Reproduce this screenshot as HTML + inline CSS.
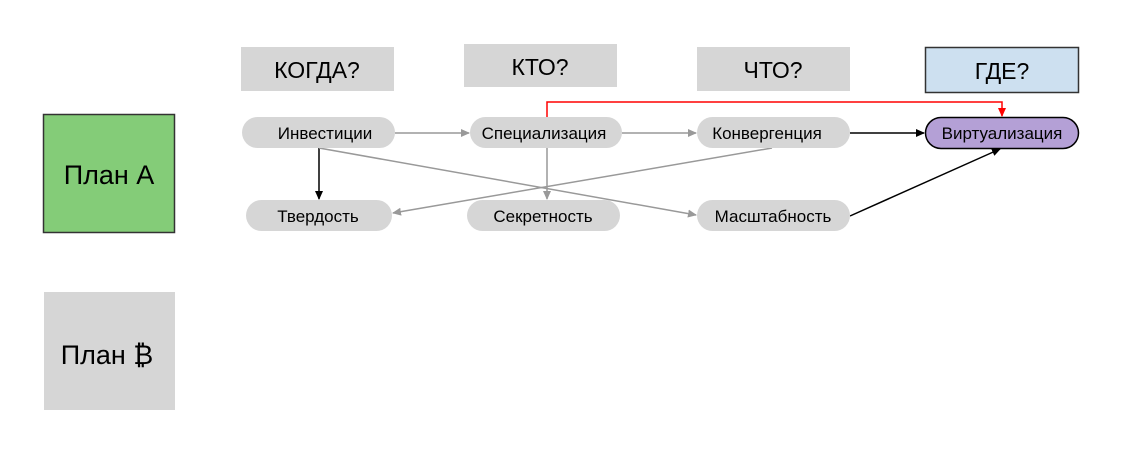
<!DOCTYPE html>
<html><head><meta charset="utf-8"><style>
html,body{margin:0;padding:0;background:#fff;}
svg{display:block;}
text{font-family:"Liberation Sans","DejaVu Sans",sans-serif;}
</style></head><body>
<svg width="1124" height="459" viewBox="0 0 1124 459" xmlns="http://www.w3.org/2000/svg">
<defs>
<marker id="ag" markerWidth="10" markerHeight="10" refX="8" refY="4" orient="auto" markerUnits="userSpaceOnUse"><path d="M0,0 L9,4 L0,8 z" fill="#999"/></marker>
<marker id="ab" markerWidth="10" markerHeight="10" refX="8" refY="4" orient="auto" markerUnits="userSpaceOnUse"><path d="M0,0 L9,4 L0,8 z" fill="#000"/></marker>
<marker id="ar" markerWidth="10" markerHeight="10" refX="8" refY="4" orient="auto" markerUnits="userSpaceOnUse"><path d="M0,0 L9,4 L0,8 z" fill="#f00"/></marker>
</defs>
<rect x="241" y="47" width="153" height="44" fill="#d6d6d6"/>
<text x="317" y="78" font-size="23" text-anchor="middle">КОГДА?</text>
<rect x="464" y="44" width="153" height="43" fill="#d6d6d6"/>
<text x="540" y="75" font-size="23" text-anchor="middle">КТО?</text>
<rect x="697" y="47" width="153" height="44" fill="#d6d6d6"/>
<text x="773" y="78" font-size="23" text-anchor="middle">ЧТО?</text>
<rect x="925.5" y="47.5" width="153" height="45" fill="#cde0f0" stroke="#333" stroke-width="1.5"/>
<text x="1002" y="79" font-size="23" text-anchor="middle">ГДЕ?</text>
<rect x="43.5" y="114.5" width="131" height="118" fill="#84cc78" stroke="#333" stroke-width="1.5"/>
<text x="109" y="184" font-size="27" text-anchor="middle">План А</text>
<rect x="44" y="292" width="131" height="118" fill="#d6d6d6"/>
<text x="107" y="364" font-size="27" text-anchor="middle">План ₿</text>
<line x1="395" y1="133" x2="469" y2="133" stroke="#999" stroke-width="1.5" marker-end="url(#ag)"/>
<line x1="622" y1="133" x2="696" y2="133" stroke="#999" stroke-width="1.5" marker-end="url(#ag)"/>
<line x1="850" y1="133" x2="924" y2="133" stroke="#000" stroke-width="1.5" marker-end="url(#ab)"/>
<line x1="319" y1="148" x2="319" y2="199" stroke="#000" stroke-width="1.5" marker-end="url(#ab)"/>
<line x1="319" y1="148" x2="696" y2="215" stroke="#999" stroke-width="1.5" marker-end="url(#ag)"/>
<line x1="547" y1="148" x2="547" y2="199" stroke="#999" stroke-width="1.5" marker-end="url(#ag)"/>
<line x1="772" y1="148" x2="393" y2="213" stroke="#999" stroke-width="1.5" marker-end="url(#ag)"/>
<line x1="850" y1="216" x2="1000" y2="149" stroke="#000" stroke-width="1.5" marker-end="url(#ab)"/>
<polyline points="547,117 547,102 1002,102 1002,116" fill="none" stroke="#f00" stroke-width="1.5" marker-end="url(#ar)"/>
<rect x="242" y="117" width="153" height="31" rx="15.5" fill="#d6d6d6"/>
<text x="325" y="139" font-size="17" text-anchor="middle">Инвестиции</text>
<rect x="470" y="117" width="152" height="31" rx="15.5" fill="#d6d6d6"/>
<text x="544" y="139" font-size="17" text-anchor="middle">Специализация</text>
<rect x="697" y="117" width="153" height="31" rx="15.5" fill="#d6d6d6"/>
<text x="767" y="139" font-size="17" text-anchor="middle">Конвергенция</text>
<rect x="925.5" y="117.5" width="153" height="31" rx="15.5" fill="#b4a0d6" stroke="#000" stroke-width="1.5"/>
<text x="1002" y="139" font-size="17" text-anchor="middle">Виртуализация</text>
<rect x="246" y="200" width="146" height="31" rx="15.5" fill="#d6d6d6"/>
<text x="318" y="222" font-size="17" text-anchor="middle">Твердость</text>
<rect x="467" y="200" width="153" height="31" rx="15.5" fill="#d6d6d6"/>
<text x="543" y="222" font-size="17" text-anchor="middle">Секретность</text>
<rect x="697" y="200" width="153" height="31" rx="15.5" fill="#d6d6d6"/>
<text x="773" y="222" font-size="17" text-anchor="middle">Масштабность</text>
</svg>
</body></html>
